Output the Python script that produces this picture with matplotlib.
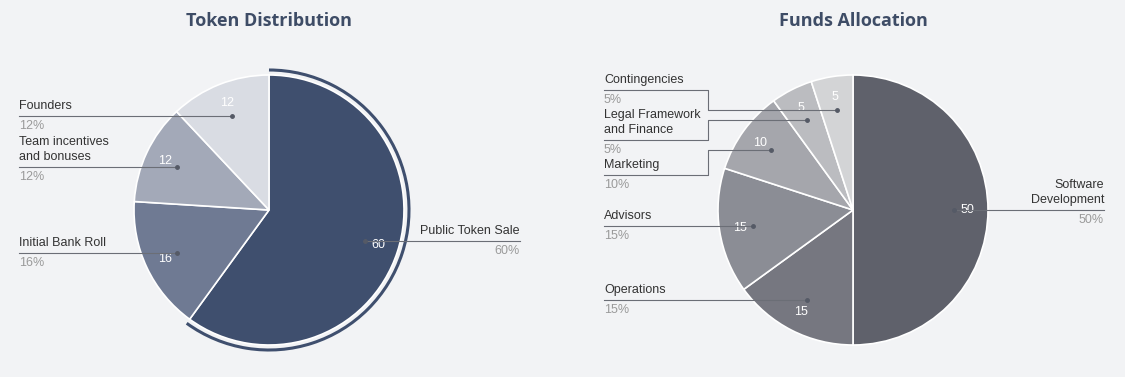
import numpy as np
from matplotlib import pyplot as plt
from matplotlib.patches import Arc

plt.rcParams['font.family'] = ['Liberation Sans', 'DejaVu Sans']

# Token distribution (clockwise from 12 o'clock)
token_labels = ['Public Token Sale', 'Initial Bank Roll', 'Team incentives\nand bonuses', 'Founders']
token_values = [60, 16, 12, 12]
token_colors = ['#3f4f6e', '#6f7a93', '#a3a9b8', '#d9dce3']

# Funds allocation (clockwise from 12 o'clock)
funds_labels = ['Software\nDevelopment', 'Operations', 'Advisors', 'Marketing',
                'Legal Framework\nand Finance', 'Contingencies']
funds_values = [50, 15, 15, 10, 5, 5]
funds_colors = ['#5f616b', '#767780', '#8b8d95', '#a5a6ac', '#bbbcc0', '#d3d4d6']

W, H = 1125, 377
BG = '#f2f3f5'
R = 135

fig = plt.figure(figsize=(W / 100, H / 100), dpi=100, facecolor=BG)
ax = fig.add_axes([0, 0, 1, 1])
ax.set_facecolor(BG)


def draw_pie(values, colors, cx, cy):
    wedges, _, autotexts = ax.pie(
        values, colors=colors, startangle=90, counterclock=False,
        center=(cx, cy), radius=R,
        wedgeprops=dict(edgecolor='white', linewidth=1.2),
        autopct=lambda p: f'{p:.0f}', pctdistance=0.85,
        textprops=dict(color='white', fontsize=9))
    dots = []
    for w in wedges:
        mid = np.deg2rad((w.theta1 + w.theta2) / 2)
        dx, dy = cx + 0.75 * R * np.cos(mid), cy + 0.75 * R * np.sin(mid)
        ax.plot(dx, dy, 'o', ms=2.5, color='#555a66', zorder=5)
        dots.append((dx, dy))
    return wedges, dots


def label(x, y, name, pct, ha='left'):
    ax.text(x, y + 4, name, ha=ha, va='bottom', fontsize=9, color='#333333', linespacing=1.3)
    ax.text(x, y - 4, pct, ha=ha, va='top', fontsize=9, color='#9a9a9a')


# ---- left pie
cx1, cy1 = 269, H - 210
wedges, dots = draw_pie(token_values, token_colors, cx1, cy1)
w0 = wedges[0]
ax.add_patch(Arc((cx1, cy1), 2 * (R + 5), 2 * (R + 5), theta1=w0.theta1, theta2=w0.theta2,
                 color=token_colors[0], lw=2.2))
for (dx, dy), name, v in zip(dots, token_labels, token_values):
    if dx > cx1:
        ax.plot([dx, 520], [dy, dy], color='#6b6e76', lw=0.8, zorder=4)
        label(520, dy, name, f'{v}%', ha='right')
    else:
        ax.plot([19, dx], [dy, dy], color='#6b6e76', lw=0.8, zorder=4)
        label(19, dy, name, f'{v}%')

# ---- right pie
cx2, cy2 = 853, H - 210
wedges, dots = draw_pie(funds_values, funds_colors, cx2, cy2)
line_y = [None, H - 300, H - 226, H - 175, H - 140, H - 90]
for (dx, dy), ly, name, v in zip(dots, line_y, funds_labels, funds_values):
    if dx > cx2:
        ax.plot([dx, 1104], [dy, dy], color='#6b6e76', lw=0.8, zorder=4)
        label(1104, dy, name, f'{v}%', ha='right')
    else:
        if abs(ly - dy) > 3:
            ax.plot([604, 708, 708, dx], [ly, ly, dy, dy], color='#6b6e76', lw=0.8, zorder=4)
        else:
            ly = dy
            ax.plot([604, dx], [ly, ly], color='#6b6e76', lw=0.8, zorder=4)
        label(604, ly, name, f'{v}%')

ax.text(cx1, H - 21, 'Token Distribution', ha='center', va='center', fontsize=13,
        fontweight='bold', color='#3e4c66', family='Open Sans')
ax.text(cx2, H - 21, 'Funds Allocation', ha='center', va='center', fontsize=13,
        fontweight='bold', color='#3e4c66', family='Open Sans')

ax.set_xlim(0, W)
ax.set_ylim(0, H)
ax.set_aspect('equal')
ax.axis('off')
fig.savefig('out.png', dpi=100, facecolor=BG)
